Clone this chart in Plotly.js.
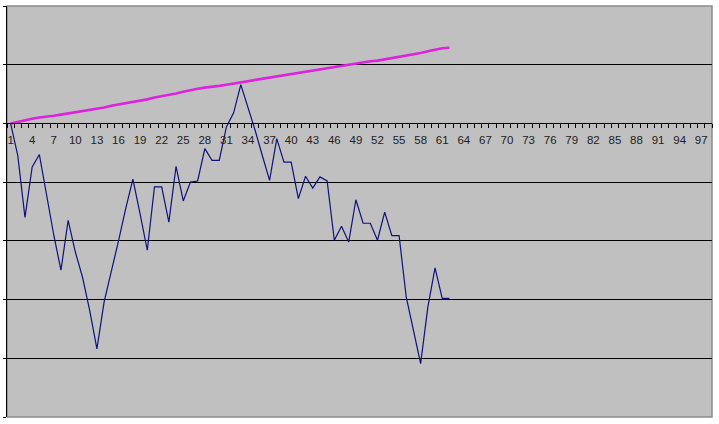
<!DOCTYPE html>
<html>
<head>
<meta charset="utf-8">
<script src="https://cdn.plot.ly/plotly-3.0.1.min.js"></script>
<style>html,body{margin:0;padding:0;background:#fff;}#chart{width:719px;height:424px;}</style>
</head>
<body>
<div id="chart"></div>
<script>
// Categories 1..98 on the x axis
const categories = Array.from({length: 98}, (_, i) => i + 1);
const tickLabels = categories.filter(c => (c - 1) % 3 === 0);

// Series values (62 points each)
const navySeries = [
  0.00, -0.55, -1.60, -0.74, -0.53, -1.23, -1.90, -2.50, -1.65, -2.19,
  -2.62, -3.19, -3.84, -3.04, -2.53, -2.00, -1.45, -0.95, -1.54, -2.16,
  -1.08, -1.08, -1.68, -0.73, -1.32, -1.00, -0.98, -0.43, -0.63, -0.63,
  -0.06, 0.18, 0.66, 0.28, -0.12, -0.55, -0.97, -0.26, -0.66, -0.66,
  -1.28, -0.90, -1.10, -0.91, -0.98, -1.99, -1.75, -2.02, -1.30, -1.70,
  -1.70, -1.99, -1.51, -1.91, -1.91, -2.96, -3.50, -4.09, -3.13, -2.46,
  -2.98, -2.98
];
const magentaSeries = [
  0.00, 0.03, 0.06, 0.08, 0.10, 0.11, 0.13, 0.15, 0.17, 0.19,
  0.20, 0.22, 0.24, 0.27, 0.30, 0.32, 0.34, 0.36, 0.38, 0.41,
  0.44, 0.46, 0.49, 0.51, 0.54, 0.57, 0.59, 0.61, 0.62, 0.64,
  0.66, 0.68, 0.71, 0.73, 0.75, 0.77, 0.79, 0.80, 0.82, 0.84,
  0.86, 0.88, 0.90, 0.92, 0.94, 0.96, 0.98, 1.00, 1.02, 1.04,
  1.06, 1.07, 1.09, 1.12, 1.14, 1.16, 1.18, 1.20, 1.23, 1.26,
  1.28, 1.29
];

const traces = [
  {
    x: categories.slice(0, navySeries.length),
    y: navySeries,
    type: 'scatter', mode: 'lines',
    line: {color: '#10107e', width: 1.2},
    hoverinfo: 'skip', showlegend: false
  },
  {
    x: categories.slice(0, magentaSeries.length),
    y: magentaSeries,
    type: 'scatter', mode: 'lines',
    line: {color: '#dc24dc', width: 2.6},
    hoverinfo: 'skip', showlegend: false
  }
];

const layout = {
  width: 719, height: 424,
  margin: {l: 7, r: 7, t: 6, b: 7, pad: 0},
  paper_bgcolor: '#ffffff',
  plot_bgcolor: '#c0c0c0',
  showlegend: false,
  xaxis: {
    type: 'linear',
    range: [0.5, categories.length + 0.5],
    anchor: 'free',
    position: 5 / 7,
    showline: true, linecolor: '#000000', linewidth: 1,
    showgrid: false, zeroline: false,
    tickmode: 'array',
    tickvals: tickLabels,
    ticktext: tickLabels.map(String),
    ticks: 'outside', ticklen: 0,
    ticklabelstandoff: 6,
    tickfont: {family: 'Liberation Sans, Arial, sans-serif', size: 11.5, color: '#222222'},
    minor: {tick0: 0.5, dtick: 1, ticks: 'outside', ticklen: 4, tickcolor: '#000000', tickwidth: 1, showgrid: false},
    fixedrange: true
  },
  yaxis: {
    range: [-5, 2],
    dtick: 1,
    showgrid: true, gridcolor: '#000000', gridwidth: 1,
    zeroline: false,
    showline: true, linecolor: '#000000', linewidth: 1,
    ticks: 'outside', ticklen: 3, tickcolor: '#000000',
    showticklabels: false,
    fixedrange: true
  },
  shapes: [
    {type: 'rect', xref: 'paper', yref: 'paper', x0: 0, x1: 1, y0: 0, y1: 1,
     line: {color: '#8c8c8c', width: 1.5}, layer: 'below'}
  ]
};

Plotly.newPlot('chart', traces, layout, {displayModeBar: false, staticPlot: true});
</script>
</body>
</html>
